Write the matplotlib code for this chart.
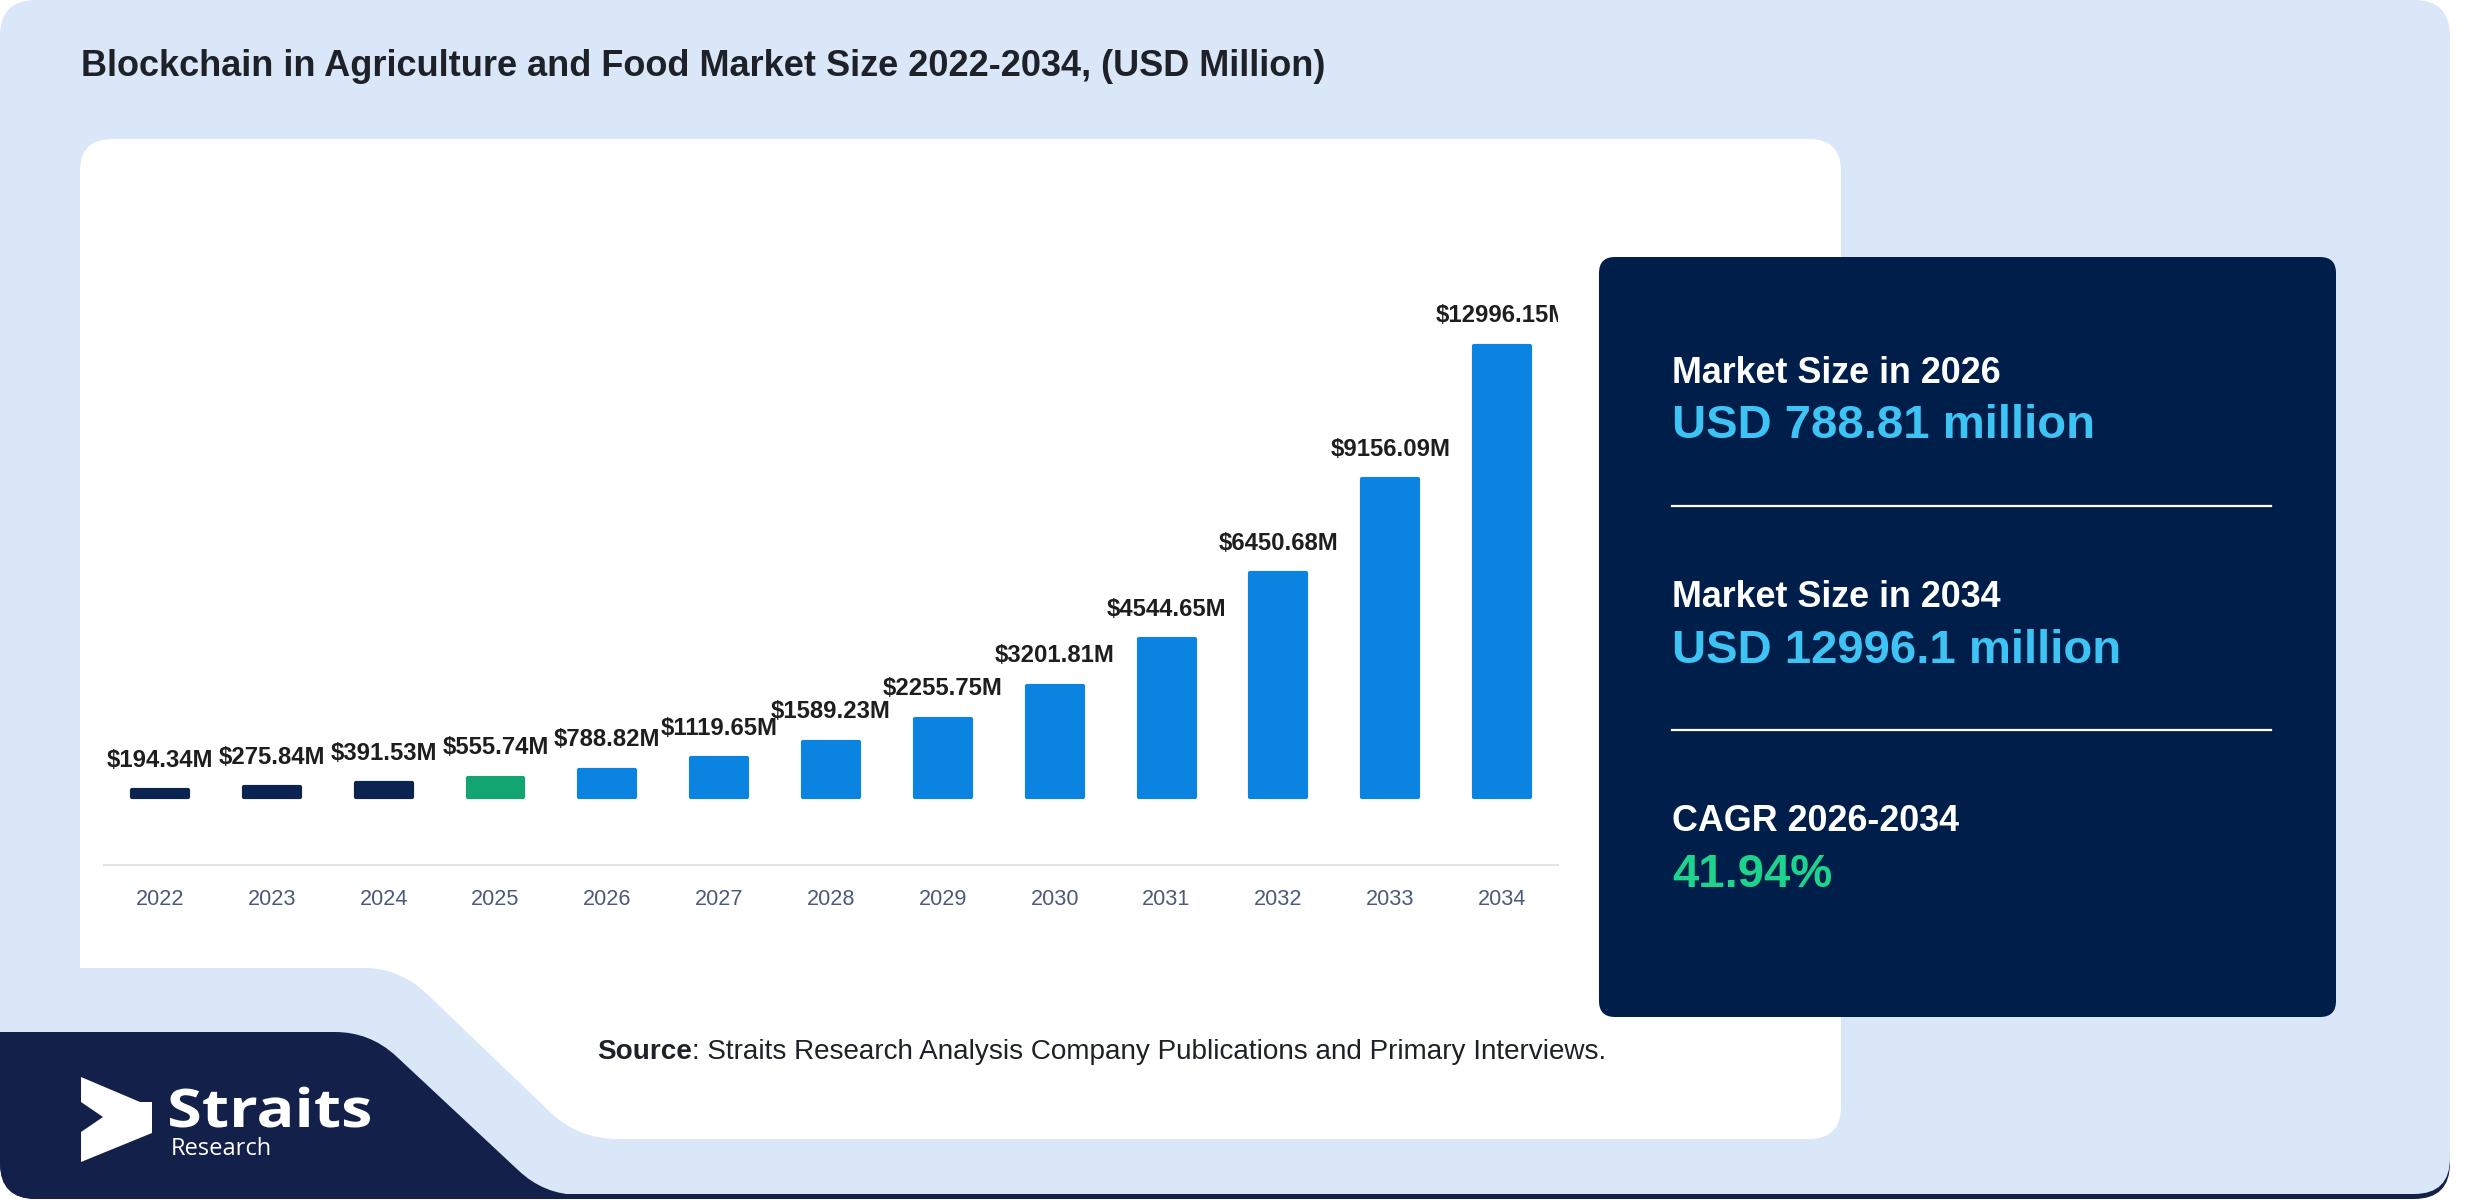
import numpy as np
import matplotlib.pyplot as plt
from matplotlib.patches import FancyBboxPatch, PathPatch, Polygon
from matplotlib.path import Path
from matplotlib.textpath import TextPath
from matplotlib.font_manager import FontProperties
from matplotlib.transforms import Affine2D

plt.rcParams['font.family'] = ['Liberation Sans', 'DejaVu Sans']

years = ['2022', '2023', '2024', '2025', '2026', '2027', '2028',
         '2029', '2030', '2031', '2032', '2033', '2034']
values = [194.34, 275.84, 391.53, 555.74, 788.82, 1119.65, 1589.23,
          2255.75, 3201.81, 4544.65, 6450.68, 9156.09, 12996.15]
base_year = '2025'

stats_titles = ['Market Size in 2026', 'Market Size in 2034', 'CAGR 2026-2034']
stats_values = ['USD 788.81 million', 'USD 12996.1 million', '41.94%']

title = 'Blockchain in Agriculture and Food Market Size 2022-2034, (USD Million)'
source_rest = ': Straits Research Analysis Company Publications and Primary Interviews.'

CARD = '#DAE7F9'
NAVY = '#13204A'
BOX = '#001E4A'
BAR_OLD = '#0A2350'
BAR_BASE = '#12A571'
BAR_NEW = '#0A84E0'

W, H = 2480, 1200
fig = plt.figure(figsize=(W / 100, H / 100), dpi=100)
fig.patch.set_facecolor('white')

# background drawn in pixel coordinates
bg = fig.add_axes([0, 0, 1, 1], zorder=0)
bg.set_xlim(0, W)
bg.set_ylim(H, 0)
bg.axis('off')


def rbox(x0, y0, x1, y1, r, color, z):
    p = FancyBboxPatch((x0, y0), x1 - x0, y1 - y0,
                       boxstyle=f'round,pad=0,rounding_size={r}',
                       facecolor=color, edgecolor='none', zorder=z)
    bg.add_patch(p)
    return p


# navy strip peeking under the card, then the card itself
strip = rbox(0, 6, 2450, 1199, 36, NAVY, 1)
rbox(0, 0, 2450, 1194, 36, CARD, 2)

# white chart panel with the cut-out at bottom-left
rbox(80, 139, 1841, 1139, 32, 'white', 3)
notch = Path([(60, 968), (365, 968), (399, 968), (426, 993),
              (550, 1112), (578, 1139), (618, 1139),
              (700, 1139), (700, 1180), (60, 1180), (60, 968)],
             [Path.MOVETO, Path.LINETO, Path.CURVE3, Path.CURVE3,
              Path.LINETO, Path.CURVE3, Path.CURVE3,
              Path.LINETO, Path.LINETO, Path.LINETO, Path.CLOSEPOLY])
bg.add_patch(PathPatch(notch, facecolor=CARD, edgecolor='none', zorder=4))

# navy logo block
logo = Path([(0, 1032), (335, 1032), (370, 1032), (396, 1056),
             (518, 1170), (544, 1195), (580, 1195),
             (720, 1195), (720, 1200), (0, 1200), (0, 1032)],
            [Path.MOVETO, Path.LINETO, Path.CURVE3, Path.CURVE3,
             Path.LINETO, Path.CURVE3, Path.CURVE3,
             Path.LINETO, Path.LINETO, Path.LINETO, Path.CLOSEPOLY])
lp = PathPatch(logo, facecolor=NAVY, edgecolor='none', zorder=5)
bg.add_patch(lp)
lp.set_clip_path(strip)

arrow = [(81, 1077), (140, 1102), (152, 1102), (152, 1133),
         (81, 1162), (81, 1132), (103, 1117), (81, 1102)]
bg.add_patch(Polygon(arrow, closed=True, facecolor='white', edgecolor='none', zorder=6))

# "Straits" word mark, fitted to its box in the reference
fp = FontProperties(family=['Open Sans', 'DejaVu Sans'], weight='bold')
tp = TextPath((0, 0), 'Straits', size=54, prop=fp)
ext = tp.get_extents()
sx = 200 / ext.width
sy = 39 / TextPath((0, 0), 'S', size=54, prop=fp).get_extents().height
tr = Affine2D().translate(-ext.x0, 0).scale(sx, -sy).translate(170, 1127)
bg.add_patch(PathPatch(tr.transform_path(tp), facecolor='white', edgecolor='none', zorder=6))
bg.text(171, 1155, 'Research', color='white', fontsize=17,
        family=['Open Sans', 'DejaVu Sans'], va='baseline', ha='left', zorder=6)

# title
bg.text(81, 66, title, fontsize=26, fontweight='bold', color='#1E2228',
        va='center', ha='left', zorder=6)

# source line
src = bg.text(597, 1052, 'Source', fontsize=20.1, fontweight='bold', color='#1E2228',
              va='center', ha='left', zorder=6)
renderer = fig.canvas.get_renderer()
sext = src.get_window_extent(renderer)
x_end = bg.transData.inverted().transform((sext.x1, sext.y0))[0]
bg.text(x_end, 1052, source_rest, fontsize=20.1, color='#1E2228',
        va='center', ha='left', zorder=6)

# info box
rbox(1599, 257, 2336, 1017, 16, BOX, 6)
tx = 1672
head_y = [383, 607, 831]
val_y = [438, 663, 887]
val_colors = ['#3EC3F5', '#3EC3F5', '#1ED38C']
for i in range(3):
    bg.text(tx, head_y[i], stats_titles[i], color='white', fontsize=25.8,
            fontweight='bold', va='baseline', ha='left', zorder=7)
    bg.text(tx, val_y[i], stats_values[i], color=val_colors[i], fontsize=34,
            fontweight='bold', va='baseline', ha='left', zorder=7)
for ly in [506, 730]:
    bg.plot([tx, 2271], [ly, ly], color='white', lw=1.6, zorder=7)

# bar chart
ax = fig.add_axes([104 / W, (H - 865) / H, 1454 / W, (865 - 260) / H], zorder=10)
ax.set_facecolor('none')
x = np.arange(len(years))
base_idx = years.index(base_year)
colors = [BAR_OLD if i < base_idx else (BAR_BASE if i == base_idx else BAR_NEW)
          for i in range(len(years))]
ax.bar(x, values, width=0.5, color=colors, edgecolor=colors, linewidth=3,
       joinstyle='round')
for xi, v in zip(x, values):
    ax.annotate(f'${v:.2f}M', (xi, v), xytext=(0, 17), textcoords='offset points',
                ha='center', va='baseline', fontsize=17.2, fontweight='bold',
                color='#1E1E1E', clip_on=True)

ax.set_xlim(-0.5, len(years) - 0.5)
ax.set_ylim(-1960, 15474)
ax.set_xticks(x)
ax.set_xticklabels(years, fontsize=15.6, color='#4B5A7A')
ax.set_yticks([])
ax.tick_params(axis='x', length=0, pad=17)
for s in ['top', 'left', 'right']:
    ax.spines[s].set_visible(False)
ax.spines['bottom'].set_color('#E1E4E9')
ax.spines['bottom'].set_linewidth(1.5)

fig.savefig('out.png', dpi=100, facecolor=fig.get_facecolor())
